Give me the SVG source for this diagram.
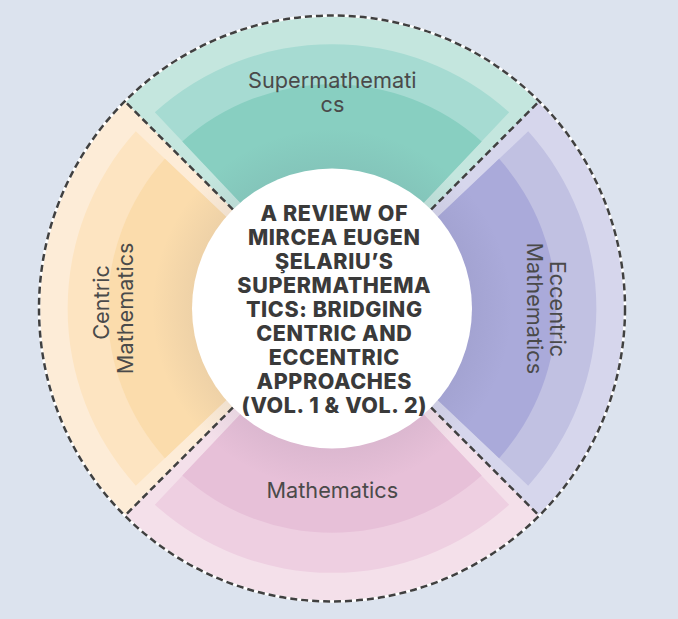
<svg xmlns="http://www.w3.org/2000/svg" xmlns:xlink="http://www.w3.org/1999/xlink" width="678" height="619" viewBox="0 0 678 619">
  <style>
    .lbl { font-family: Inter, "Noto Sans", "Liberation Sans", sans-serif; font-size: 21.7px; fill: #4a4a4a; text-anchor: middle; }
    .ttl { font-family: Inter, "Noto Sans", "Liberation Sans", sans-serif; font-size: 21.5px; font-weight: 800; letter-spacing: 0.6px; fill: #3a3a3a; text-anchor: middle; }
    .div { stroke: #404040; stroke-width: 2.5; stroke-dasharray: 7 4; fill: none; }
    .t1 { fill: #c4e6de; } .t2 { fill: #a6dbd2; } .t3 { fill: #88cfc1; }
    .p1 { fill: #d6d6ec; } .p2 { fill: #c1c1e2; } .p3 { fill: #aaaada; }
    .k1 { fill: #f4e0ea; } .k2 { fill: #eecfe1; } .k3 { fill: #e7c0d8; }
    .o1 { fill: #fdecd7; } .o2 { fill: #fde4c1; } .o3 { fill: #fbdcac; }
  </style>
  <defs>
    <path id="band-outer" d="M0,0 L-207.18,-207.18 A293,293 0 0 1 207.18,-207.18 Z"/>
    <path id="band-mid" d="M-85.05,-98.80 L-177.15,-196.20 A264.3,264.3 0 0 1 177.15,-196.20 L85.05,-98.80 A130.4,130.4 0 0 0 -85.05,-98.80 Z"/>
    <path id="band-in" d="M-85.05,-98.80 L-149.66,-167.12 A224.3,224.3 0 0 1 149.66,-167.12 L85.05,-98.80 A130.4,130.4 0 0 0 -85.05,-98.80 Z"/>
    <radialGradient id="shade" cx="332" cy="308.5" r="180" gradientUnits="userSpaceOnUse">
      <stop offset="0.76" stop-color="#50506a" stop-opacity="0.08"/>
      <stop offset="1" stop-color="#50506a" stop-opacity="0"/>
    </radialGradient>
  </defs>

  <rect x="0" y="0" width="678" height="619" fill="#dce3ee"/>

  <g transform="translate(332,308.5)">
    <g id="seg-top">
      <use xlink:href="#band-outer" class="t1"/>
      <use xlink:href="#band-mid" class="t2"/>
      <use xlink:href="#band-in" class="t3"/>
    </g>
    <g id="seg-right" transform="rotate(90)">
      <use xlink:href="#band-outer" class="p1"/>
      <use xlink:href="#band-mid" class="p2"/>
      <use xlink:href="#band-in" class="p3"/>
    </g>
    <g id="seg-bottom" transform="rotate(180)">
      <use xlink:href="#band-outer" class="k1"/>
      <use xlink:href="#band-mid" class="k2"/>
      <use xlink:href="#band-in" class="k3"/>
    </g>
    <g id="seg-left" transform="rotate(270)">
      <use xlink:href="#band-outer" class="o1"/>
      <use xlink:href="#band-mid" class="o2"/>
      <use xlink:href="#band-in" class="o3"/>
    </g>
  </g>

  <circle cx="332" cy="308.5" r="180" fill="url(#shade)"/>

  <g id="ring">
    <circle cx="332" cy="308.5" r="293" fill="none" stroke="#ffffff" stroke-width="2.5"/>
    <circle cx="332" cy="308.5" r="293" class="div"/>
  </g>

  <g id="connectors">
    <line class="div" x1="430.99" y1="209.51" x2="539.18" y2="101.32"/>
    <line class="div" x1="233.01" y1="209.51" x2="124.82" y2="101.32"/>
    <line class="div" x1="430.99" y1="407.49" x2="539.18" y2="515.68"/>
    <line class="div" x1="233.01" y1="407.49" x2="124.82" y2="515.68"/>
  </g>

  <g id="label-top">
    <text class="lbl" x="332.3" y="88.3">Supermathemati</text>
    <text class="lbl" x="332.5" y="111.7">cs</text>
  </g>
  <g id="label-right">
    <text class="lbl" transform="translate(550,309) rotate(90)">Eccentric</text>
    <text class="lbl" transform="translate(526.7,308.3) rotate(90)">Mathematics</text>
  </g>
  <g id="label-bottom">
    <text class="lbl" x="332.3" y="497.7">Mathematics</text>
  </g>
  <g id="label-left">
    <text class="lbl" transform="translate(108.5,302.5) rotate(-90)">Centric</text>
    <text class="lbl" transform="translate(133.2,308.3) rotate(-90)">Mathematics</text>
  </g>

  <g id="node-center">
    <circle cx="332" cy="308.5" r="140" fill="#ffffff"/>
    <text class="ttl" x="334.3" y="221">A REVIEW OF</text>
    <text class="ttl" x="334.3" y="245">MIRCEA EUGEN</text>
    <text class="ttl" x="334.3" y="269">ŞELARIU’S</text>
    <text class="ttl" x="334.3" y="293">SUPERMATHEMA</text>
    <text class="ttl" x="334.3" y="317">TICS: BRIDGING</text>
    <text class="ttl" x="334.3" y="341">CENTRIC AND</text>
    <text class="ttl" x="334.3" y="365">ECCENTRIC</text>
    <text class="ttl" x="334.3" y="389">APPROACHES</text>
    <text class="ttl" x="334.3" y="413">(VOL. 1 &amp; VOL. 2)</text>
  </g>
</svg>
